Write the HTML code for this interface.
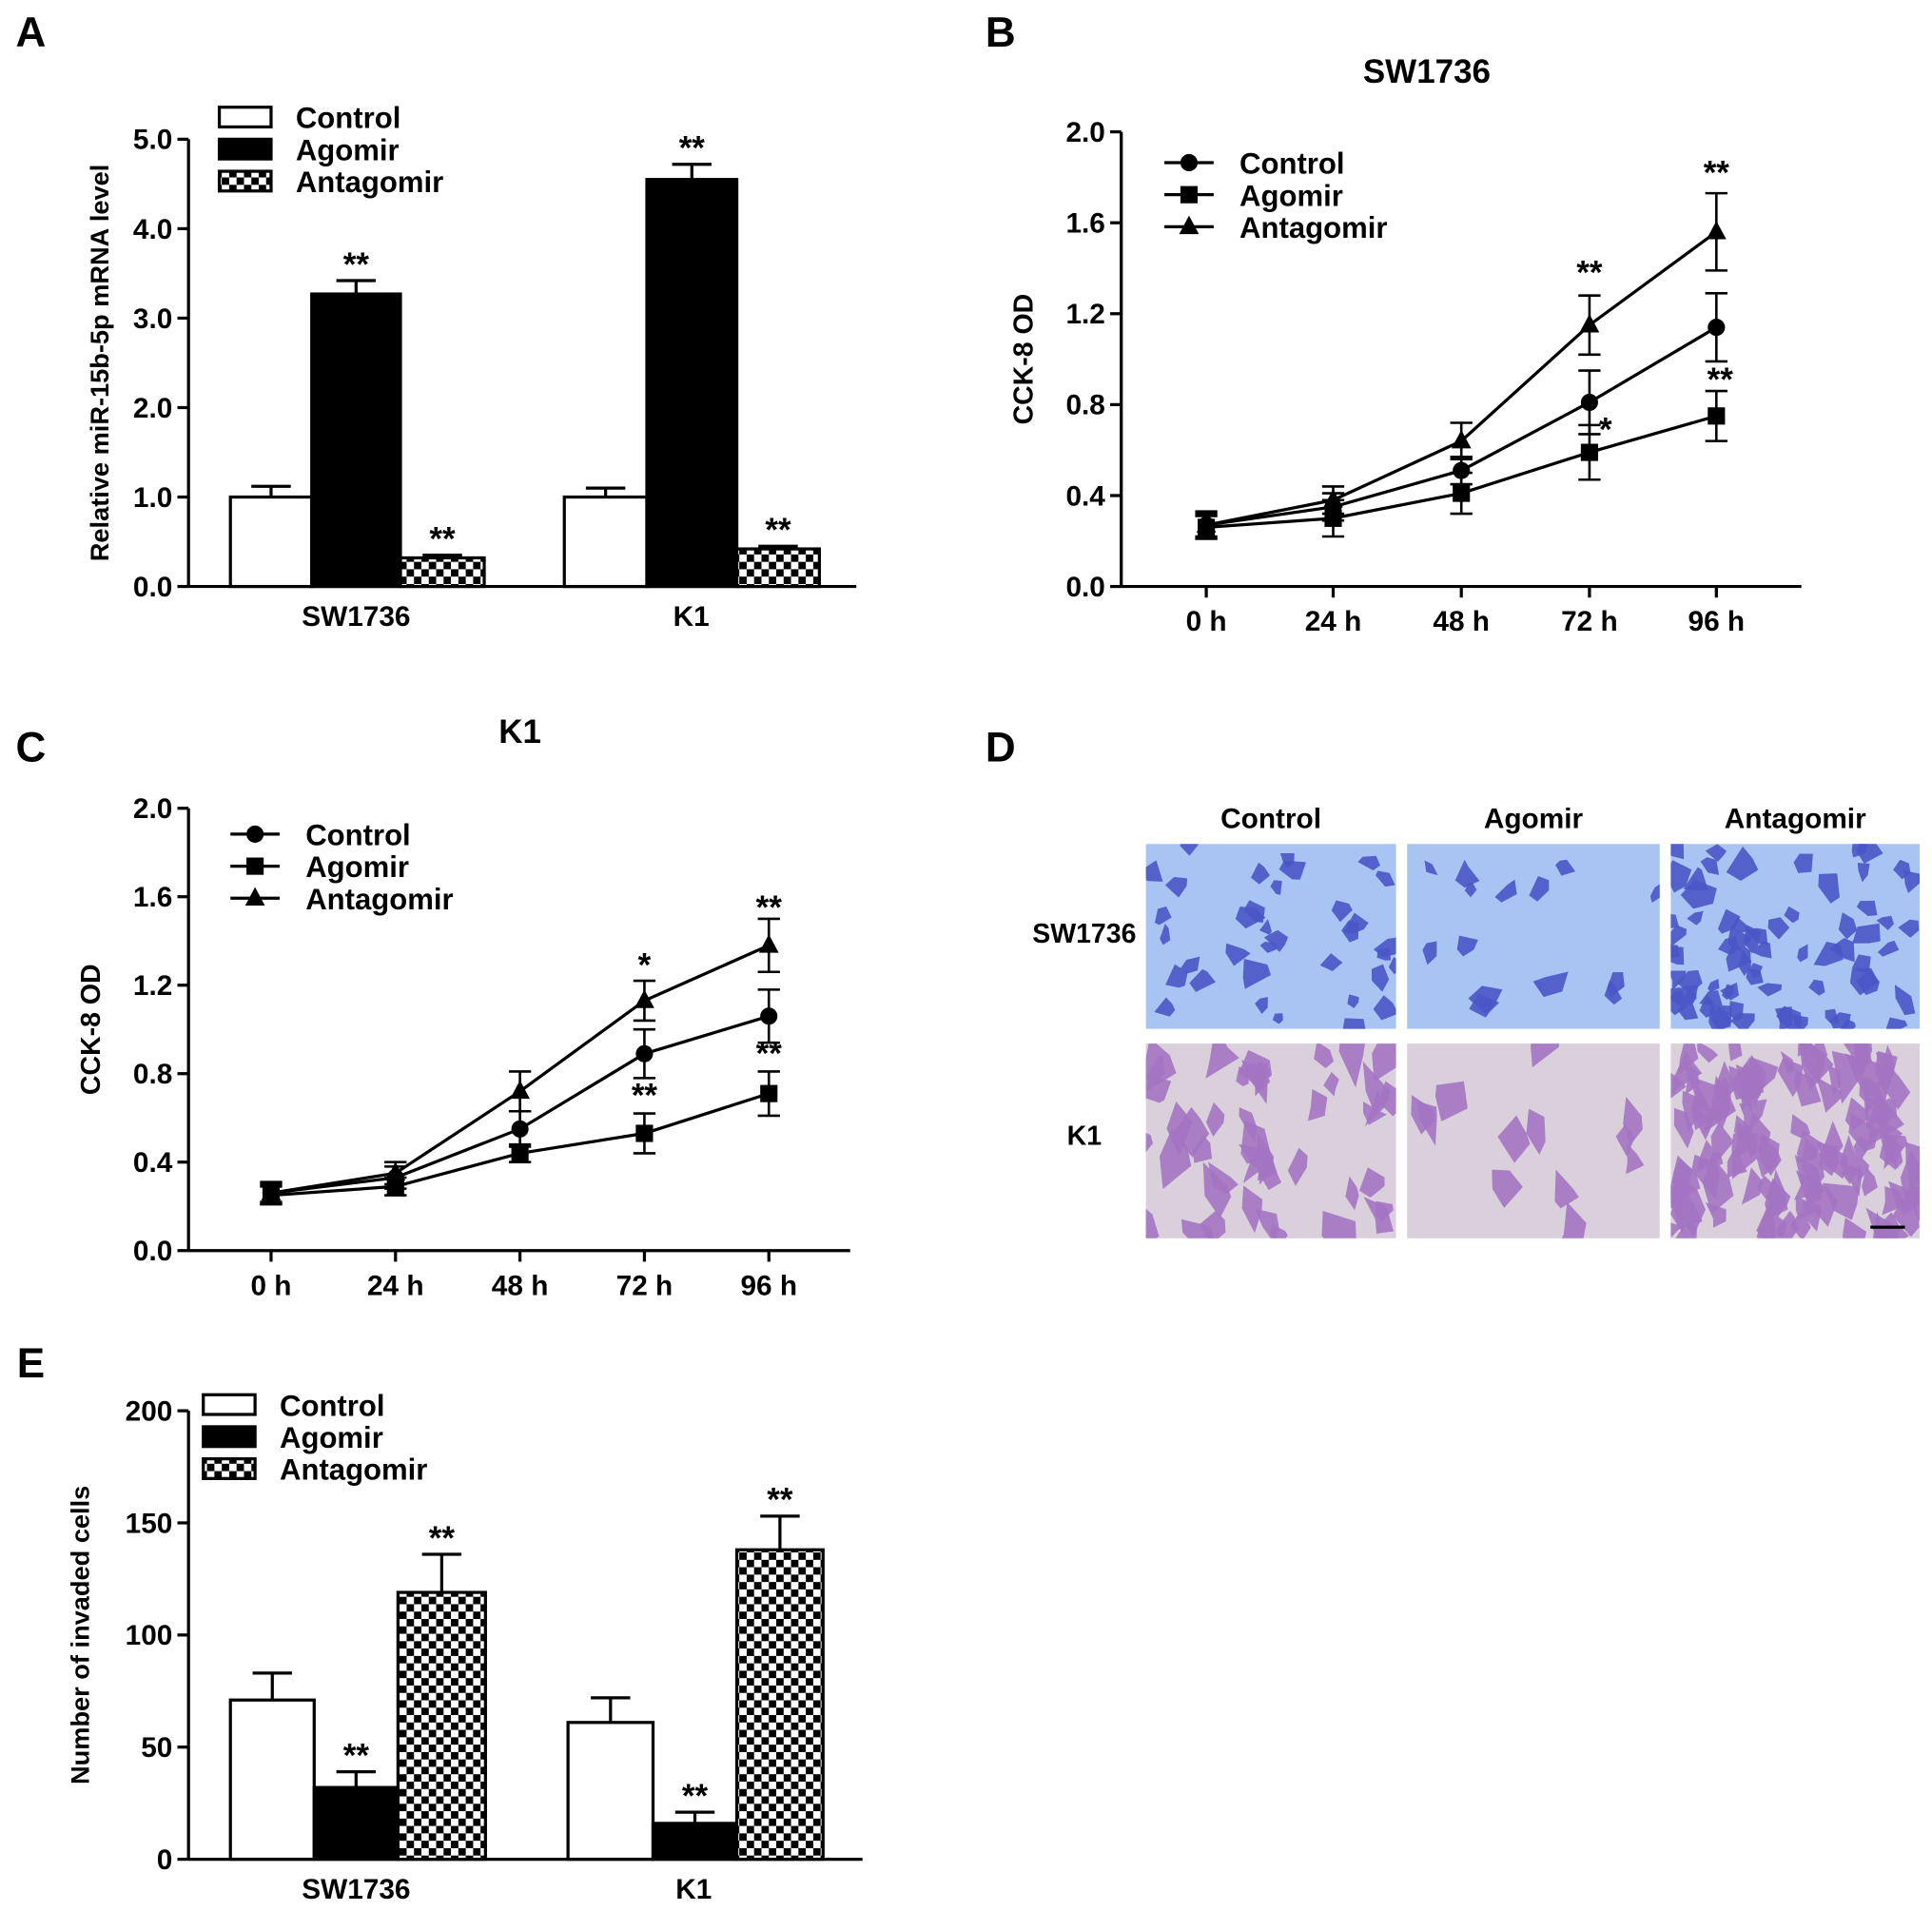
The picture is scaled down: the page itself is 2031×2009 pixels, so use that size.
<!DOCTYPE html>
<html><head><meta charset="utf-8"><style>
html,body{margin:0;padding:0;background:#fff}
svg{display:block}
text{font-family:"Liberation Sans",Arial,sans-serif;font-weight:bold;fill:#000}
</style></head><body>
<svg id="fig" xmlns="http://www.w3.org/2000/svg" width="2031" height="2009" viewBox="0 0 1568 1551">
<defs>
<pattern id="chk" width="12" height="12" patternUnits="userSpaceOnUse">
<rect width="12" height="12" fill="#fff"/><rect width="6" height="6" fill="#000"/><rect x="6" y="6" width="6" height="6" fill="#000"/>
</pattern>
</defs>
<g id="root"></g>
</svg>
<script>
// ---- Panel A data
const aGroups=["SW1736","K1"];
const aSeries=["Control","Agomir","Antagomir"];
const aVals=[[1.0,3.27,0.32],[1.0,4.55,0.42]];
const aErr=[[0.12,0.15,0.03],[0.10,0.17,0.03]];
const aStars=[["","**","**"],["","**","**"]];
const aTicks=["0.0","1.0","2.0","3.0","4.0","5.0"];
// ---- Panel B data
const timeLabels=["0 h","24 h","48 h","72 h","96 h"];
const lineTicks=["0.0","0.4","0.8","1.2","1.6","2.0"];
const bControl=[0.27,0.35,0.51,0.81,1.14];
const bControlErr=[0.05,0.06,0.06,0.14,0.15];
const bAgomir=[0.26,0.30,0.41,0.59,0.75];
const bAgomirErr=[0.05,0.08,0.09,0.12,0.11];
const bAntag=[0.27,0.38,0.64,1.15,1.56];
const bAntagErr=[0.06,0.06,0.08,0.13,0.17];
// ---- Panel C data
const cControl=[0.26,0.33,0.55,0.89,1.06];
const cControlErr=[0.04,0.05,0.08,0.11,0.12];
const cAgomir=[0.25,0.29,0.44,0.53,0.71];
const cAgomirErr=[0.04,0.04,0.04,0.09,0.10];
const cAntag=[0.26,0.35,0.72,1.13,1.38];
const cAntagErr=[0.05,0.05,0.09,0.09,0.12];
// ---- Panel E data
const eVals=[[71,32,119],[61,16,138]];
const eErr=[[12,7,17],[11,5,15]];
const eStars=[["","**","**"],["","**","**"]];
const eTicks=["0","50","100","150","200"];

const NS="http://www.w3.org/2000/svg";
const root=document.getElementById('root');
function mk(tag,attrs,parent,txt){const e=document.createElementNS(NS,tag);for(const k in attrs)e.setAttribute(k,attrs[k]);if(txt!==undefined)e.textContent=txt;(parent||root).appendChild(e);return e;}
function grp(name){const g=mk('g',{});


return g;}
function txt(p,x,y,s,size,anchor,name,extra){const t=mk('text',Object.assign({x:x,y:y,'font-size':size,'text-anchor':anchor||'middle'},extra||{}),p,s);


return t;}
const fills=["#fff","#000","url(#chk)"];

function barPanel(name,x0,x1,yTop,yBot,maxV,ticks,vals,errs,stars,groupX,barEdges,ylabel,ylx,legX,legY){
 const g=grp(name);
 const ys=v=>yBot-(v/maxV)*(yBot-yTop);
 mk('line',{x1:x0,y1:yTop,x2:x0,y2:yBot,stroke:'#000','stroke-width':2.5},g);
 mk('line',{x1:x0,y1:yBot,x2:x1,y2:yBot,stroke:'#000','stroke-width':2.5},g);
 ticks.forEach((t,i)=>{const v=i*maxV/(ticks.length-1);const y=ys(v);
  mk('line',{x1:x0-9,y1:y,x2:x0,y2:y,stroke:'#000','stroke-width':2.5},g);
  txt(g,x0-13,y+8,t,23,'end','y-tick-label');});
 vals.forEach((gv,gi)=>{gv.forEach((v,si)=>{
  const [a,b]=barEdges[gi][si];const y=ys(v);
  const r=mk('rect',{x:a,y:y,width:b-a,height:yBot-y,fill:fills[si],stroke:'#000','stroke-width':2.5},g);
  
  
  const cx=(a+b)/2, ye=ys(v+errs[gi][si]);
  mk('line',{x1:cx,y1:y,x2:cx,y2:ye,stroke:'#000','stroke-width':2.5},g);
  mk('line',{x1:cx-16,y1:ye,x2:cx+16,y2:ye,stroke:'#000','stroke-width':2.5},g);
  if(stars[gi][si])txt(g,cx,ye-4,stars[gi][si],27,'middle','significance-stars');
 });
 txt(g,groupX[gi],yBot+32,aGroups[gi],23,'middle','x-tick-label');});
 txt(g,ylx,(yTop+yBot)/2,ylabel,21,'middle','y-axis-title',{transform:`rotate(-90 ${ylx} ${(yTop+yBot)/2})`});
 aSeries.forEach((s,i)=>{const y=legY+i*26;
  const r=mk('rect',{x:legX,y:y-8,width:42,height:16,fill:fills[i],stroke:'#000','stroke-width':2.5},g);
  
  
  txt(g,legX+62,y+9,s,24,'start','legend-entry');});
}
function linePanel(name,x0,x1,yTop,yBot,xs,title,tx,ty,series,legX,legY,stars){
 const g=grp(name);
 const ys=v=>yBot-(v/2)*(yBot-yTop);
 mk('line',{x1:x0,y1:yTop,x2:x0,y2:yBot,stroke:'#000','stroke-width':2.5},g);
 mk('line',{x1:x0,y1:yBot,x2:x1,y2:yBot,stroke:'#000','stroke-width':2.5},g);
 lineTicks.forEach((t,i)=>{const y=ys(i*0.4);
  mk('line',{x1:x0-9,y1:y,x2:x0,y2:y,stroke:'#000','stroke-width':2.5},g);
  txt(g,x0-13,y+8,t,23,'end','y-tick-label');});
 timeLabels.forEach((t,i)=>{mk('line',{x1:xs[i],y1:yBot,x2:xs[i],y2:yBot+9,stroke:'#000','stroke-width':2.5},g);
  txt(g,xs[i],yBot+36,t,23,'middle','x-tick-label');});
 txt(g,tx,ty,title,27,'middle','chart-title');
 txt(g,x0-72,(yTop+yBot)/2,'CCK-8 OD',22,'middle','y-axis-title',{transform:`rotate(-90 ${x0-72} ${(yTop+yBot)/2})`});
 const marker=(p,shape,x,y)=>{if(shape==='c')mk('circle',{cx:x,cy:y,r:7,fill:'#000'},p);
  else if(shape==='s')mk('rect',{x:x-7,y:y-7,width:14,height:14,fill:'#000'},p);
  else mk('polygon',{points:`${x},${y-9} ${x+8},${y+6} ${x-8},${y+6}`,fill:'#000'},p);};
 series.forEach(([nm,vals,errs,shape],si)=>{
  const sg=mk('g',{},g);
  
  
  mk('polyline',{points:vals.map((v,i)=>xs[i]+','+ys(v)).join(' '),fill:'none',stroke:'#000','stroke-width':2.5},sg);
  vals.forEach((v,i)=>{const a=ys(v+errs[i]),b=ys(v-errs[i]);
   mk('line',{x1:xs[i],y1:a,x2:xs[i],y2:b,stroke:'#000','stroke-width':2},sg);
   mk('line',{x1:xs[i]-9,y1:a,x2:xs[i]+9,y2:a,stroke:'#000','stroke-width':2},sg);
   mk('line',{x1:xs[i]-9,y1:b,x2:xs[i]+9,y2:b,stroke:'#000','stroke-width':2},sg);
   marker(sg,shape,xs[i],ys(v));});
  const y=legY+si*26;
  mk('line',{x1:legX,y1:y,x2:legX+40,y2:y,stroke:'#000','stroke-width':2.5},g);
  marker(g,shape,legX+20,y);
  txt(g,legX+61,y+9,nm,24,'start','legend-entry');
 });
 stars.forEach(([s,i,v,dx])=>txt(g,xs[i]+dx,ys(v),s,27,'middle','significance-stars'));
}
[["A",25,38],["B",812,38],["C",25,618],["D",812,618],["E",25,1118]].forEach(([l,x,y])=>txt(root,x,y,l,34,'middle','panel-label-'+l.toLowerCase()));

barPanel('panel-a-bar-chart',153,695,113,476,5,aTicks,aVals,aErr,aStars,[289,561],
 [[[187,253],[253,325],[325,393]],[[458,525],[525,598],[598,665]]],'Relative miR-15b-5p mRNA level',88,178,95);
linePanel('panel-b-line-chart',910,1462,107,476,[979,1082,1186,1290,1393],'SW1736',1158,67,
 [["Control",bControl,bControlErr,'c'],["Agomir",bAgomir,bAgomirErr,'s'],["Antagomir",bAntag,bAntagErr,'t']],945,132,
 [["**",3,1.33,0],["**",4,1.77,0],["**",4,0.86,3],["*",3,0.64,13]]);
linePanel('panel-c-line-chart',153,690,656,1015,[220,321,422,523,624],'K1',422,603,
 [["Control",cControl,cControlErr,'c'],["Agomir",cAgomir,cAgomirErr,'s'],["Antagomir",cAntag,cAntagErr,'t']],187,677,
 [["*",3,1.24,0],["**",4,1.5,0],["**",3,0.65,0],["**",4,0.84,0]]);
barPanel('panel-e-bar-chart',153,700,1145,1509,200,eTicks,eVals,eErr,eStars,[289,563],
 [[[187,255],[255,323],[323,394]],[[461,530],[530,598],[598,668]]],'Number of invaded cells',72,165,1140);

(function(){
 const g=grp('panel-d-micrographs');
 const cols=[[930,1133],[1142,1347],[1356,1558]];const rows=[[685,835],[847,1005]];
 const heads=["Control","Agomir","Antagomir"];const counts=[[35,14,70],[45,12,110]];
 cols.forEach((c,i)=>txt(g,(c[0]+c[1])/2,672,heads[i],23,'middle','column-header'));
 txt(g,880,765,'SW1736',22,'middle','row-label');txt(g,880,929,'K1',22,'middle','row-label');
 let seed=7;const rnd=()=>{seed=(seed*9301+49297)%233280;return seed/233280;};
 rows.forEach((r,ri)=>cols.forEach((c,ci)=>{
  const im=mk('g',{},g);
  
  
  const id='clip'+ri+ci;const cp=mk('clipPath',{id:id},im);mk('rect',{x:c[0],y:r[0],width:c[1]-c[0],height:r[1]-r[0]},cp);
  mk('rect',{x:c[0],y:r[0],width:c[1]-c[0],height:r[1]-r[0],fill:ri?'#d9d0dc':'#a8c4f2'},im);
  const cg=mk('g',{'clip-path':`url(#${id})`},im);
  for(let k=0;k<counts[ri][ci];k++){const x=c[0]+rnd()*(c[1]-c[0]),y=r[0]+rnd()*(r[1]-r[0]);
   const s=ri?6+rnd()*7:6+rnd()*6;let pts=[];const n=5;
   for(let j=0;j<n;j++){const a=j/n*6.283+rnd();const rr=s*(0.6+rnd()*0.8)*(ri&&j%2?1.8:1);pts.push((x+Math.cos(a)*rr).toFixed(1)+','+(y+Math.sin(a)*rr).toFixed(1));}
   mk('polygon',{points:pts.join(' '),fill:ri?'#a374c2':'#4b56c6','fill-opacity':0.9},cg);}
 }));
 mk('line',{x1:1518,y1:996,x2:1546,y2:996,stroke:'#000','stroke-width':2.5},g);
})();
</script>
</body></html>
